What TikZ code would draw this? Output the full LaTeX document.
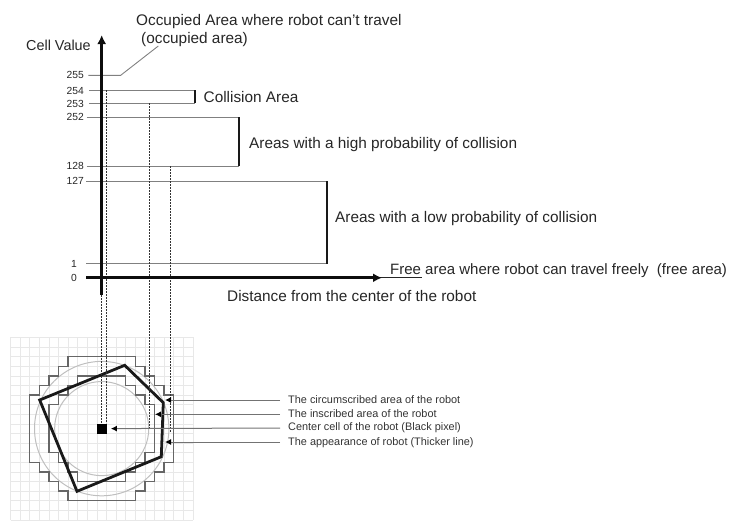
\documentclass[tikz,border=0pt]{standalone}
\usepackage{fontspec}
\setmainfont{Liberation Sans}
\usetikzlibrary{arrows.meta,calc,positioning}
\tikzset{
    axisline/.style={line width=3pt,-{Latex[length=9pt,width=9pt]},black!95},
    levelline/.style={line width=0.9pt,black!50},
    wallline/.style={line width=2pt,black!90},
    dropline/.style={line width=0.9pt,black!80,dash pattern=on 2pt off 1pt},
    stairline/.style={line width=1.4pt,black!60},
    leadline/.style={line width=1pt,black!55},
    leadarrow/.style={leadline,-{Latex[length=6pt,width=6pt,black]}},
    bigtext/.style={font=\fontsize{15.35}{17}\selectfont,text=black!85,inner sep=0pt,anchor=west},
    ticktext/.style={font=\fontsize{10.3}{12}\selectfont,text=black!85,inner sep=0pt,anchor=east},
    smalltext/.style={font=\fontsize{10.9}{12}\selectfont,text=black!80,inner sep=0pt,anchor=west}
}
\begin{document}
\begin{tikzpicture}[x=1pt,y=-1pt]
    \useasboundingbox (0,0) rectangle (750,523);

    \coordinate (origo) at (101.7,277.8);
    \coordinate (centercell) at (101.7,428.6);

    % map of the robot
    \begin{scope}[shift={(centercell)},x=9.6pt,y=-9.6pt]
        \foreach \g in {-9.5,-8.5,...,9.5}{
            \draw[black!9,line width=0.6pt] (\g,-9.5) -- (\g,9.5);
            \draw[black!9,line width=0.6pt] (-9.5,\g) -- (9.5,\g);
        }
        \draw[black!25,line width=1pt] (0,0) circle (7);
        \draw[black!25,line width=1pt] (0,0) circle (4.9);
        \foreach \sx/\sy in {1/1,1/-1,-1/1,-1/-1}{
            \draw[stairline,line join=miter,xscale=\sx,yscale=\sy]
                (0,7.5) -| (3.5,6.5) -| (4.5,5.5) -| (5.5,4.5) -| (6.5,3.5) -| (7.5,0);
            \draw[stairline,line join=miter,xscale=\sx,yscale=\sy]
                (0,5.5) -| (2.5,4.5) -| (3.5,3.5) -| (4.5,2.5) -| (5.5,0);
        }
    \end{scope}
    \draw[line width=2.8pt,black!90,line join=miter] (124.7,365.3) -- (163.3,402.7) -- (161.3,456.7) -- (77,491.3) -- (39.7,400) -- cycle;
    \node[fill=black,minimum size=10pt,inner sep=0pt] (robotcell) at (centercell) {};

    % levels of the cost
    \node[ticktext] (v255) at (84,75.3) {255};
    \node[ticktext] (v254) at (84,90.5) {254};
    \node[ticktext] (v253) at (84,103.8) {253};
    \node[ticktext] (v252) at (84,117.3) {252};
    \node[ticktext] (v128) at (84,166.3) {128};
    \node[ticktext] (v127) at (84,181.3) {127};
    \node[ticktext] (v1) at (77,263.8) {1};
    \node[ticktext] (v0) at (77,278.3) {0};

    \coordinate (c254) at (195.3,90);
    \coordinate (c253) at (195.3,103.3);
    \coordinate (c252) at (239,117);
    \coordinate (c128) at (239,166);
    \coordinate (c127) at (327,181);
    \coordinate (c1) at (327,263.7);
    \coordinate (c255) at (120.7,75.3);

    \node[bigtext] (occupied) at (136,21.5) {Occupied Area where robot can’t travel};
    \node[bigtext] (occupiedb) at (141,39.5) {(occupied area)};
    \node[bigtext] (collision) at (203.5,97.5) {Collision Area};
    \node[bigtext] (high) at (249,145) {Areas with a high probability of collision};
    \node[bigtext] (low) at (335,219) {Areas with a low probability of collision};
    \node[bigtext,font=\fontsize{15}{17}\selectfont] (free) at (390,271) {Free area where robot can travel freely \ (free area)};
    \node[bigtext] (distance) at (227,296) {Distance from the center of the robot};
    \node[bigtext,font=\fontsize{14.4}{17}\selectfont] (cellvalue) at (26,45) {Cell Value};

    \draw[levelline] (88.3,75.3) -- (c255) -- (158.3,46);
    \draw[levelline] (89,90) -- (c254);
    \draw[levelline] (89,103.3) -- (c253);
    \draw[levelline] (86.7,117) -- (c252);
    \draw[levelline] (86.7,166) -- (c128);
    \draw[levelline] (86,181) -- (c127);
    \draw[levelline] (86,263.7) -- (c1);

    \draw[wallline] (c254) -- (c253);
    \draw[wallline] (c252) -- (c128);
    \draw[wallline] (c127) -- (c1);

    % projection onto the map
    \draw[dropline] (101.7,295) -- (101.7,423);
    \draw[dropline] (106.7,90) -- (106.7,423);
    \draw[dropline] (149.7,103.3) -- (149.7,428);
    \draw[dropline] (170.3,166) -- (170.3,432);

    % axes
    \draw[line width=0.9pt,black!85] (origo) -- (421.7,277.8);
    \draw[axisline] (86,277.8) -- (382,277.8);
    \draw[axisline] (101.7,295) -- (101.7,35);

    % labels of the map
    \node[smalltext] (circum) at (288,399.5) {The circumscribed area of the robot};
    \node[smalltext] (inscr) at (288,414) {The inscribed area of the robot};
    \node[smalltext] (cent) at (288,428) {Center cell of the robot (Black pixel)};
    \node[smalltext] (appear) at (288,442.5) {The appearance of robot (Thicker line)};

    \coordinate (circumtip) at (165,400);
    \coordinate (inscrtip) at (155,414.3);
    \coordinate (centertip) at ($(robotcell.east)+(4,0)$);
    \coordinate (appeartip) at (165,442);

    \draw[leadarrow] (280,400) -- (circumtip);
    \draw[leadarrow] (280,414.3) -- (inscrtip);
    \draw[leadarrow] (280,428) -- (centertip);
    \draw[leadarrow] (280,442) -- (appeartip);
\end{tikzpicture}
\end{document}
